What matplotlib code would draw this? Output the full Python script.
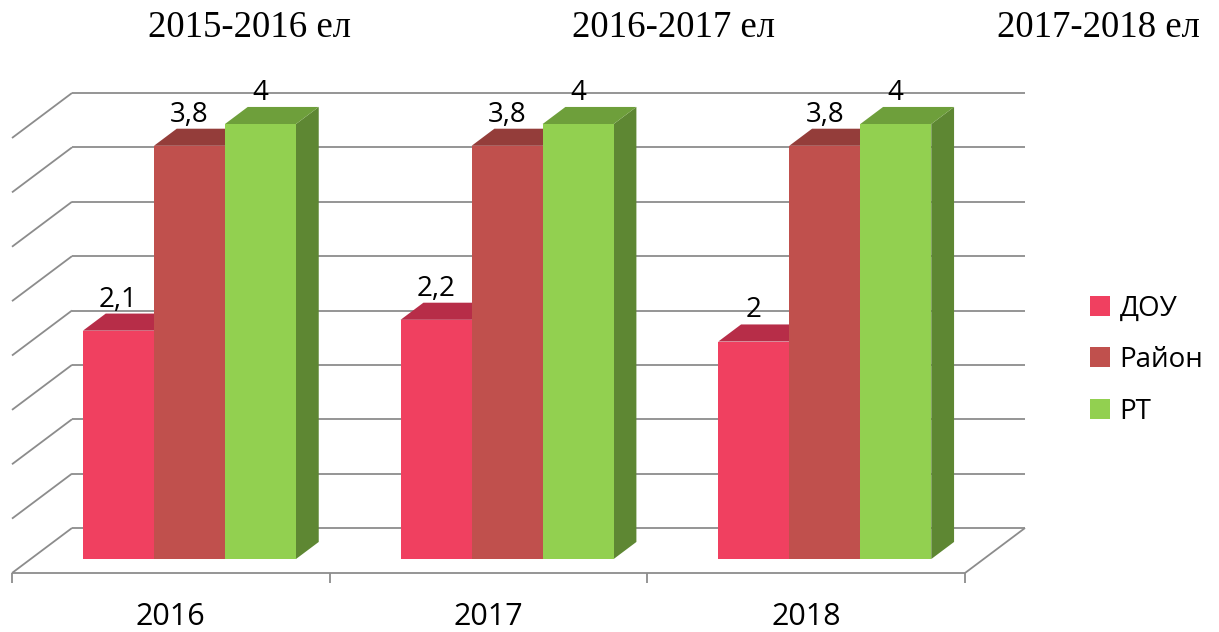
import matplotlib
matplotlib.use("Agg")
import matplotlib.pyplot as plt
from matplotlib.patches import Polygon, Patch

# ---- data ----
categories = ["2016", "2017", "2018"]
series_names = ["ДОУ", "Район", "РТ"]
dou = [2.1, 2.2, 2.0]
rayon = [3.8, 3.8, 3.8]
rt = [4.0, 4.0, 4.0]
value_labels = [["2,1", "2,2", "2"], ["3,8", "3,8", "3,8"], ["4", "4", "4"]]
titles = ["2015-2016 ел", "2016-2017 ел", "2017-2018 ел"]
grid_values = [0, 0.5, 1, 1.5, 2, 2.5, 3, 3.5, 4]

series = [dou, rayon, rt]
front_colors = ["#F04060", "#C0504D", "#92D050"]
top_colors = ["#B72D48", "#943D3A", "#6E9F3B"]
side_colors = ["#B02A44", "#8C3A37", "#5E8733"]

W_PX, H_PX, DPI = 1219, 632, 100
fig = plt.figure(figsize=(W_PX / DPI, H_PX / DPI), dpi=DPI)
ax = fig.add_axes([0, 0, 1, 1])
ax.axis("off")

# scale: front plane x=-0.5 -> px 12, x=2.5 -> px 965 ; v=0 -> py 573, v=4 -> py 138
px_per_x = (965 - 12) / 3.0
px_per_v = (573 - 138) / 4.0
ax.set_xlim(-0.5 - 12 / px_per_x, -0.5 + (W_PX - 12) / px_per_x)
ax.set_ylim(-(H_PX - 573) / px_per_v, 573 / px_per_v)

DX = 60 / px_per_x   # full depth offset in x
DY = 45 / px_per_v   # full depth offset in y
x0, x1 = -0.5, len(categories) - 0.5

grid_kw = dict(color="#8C8C8C", lw=1.3, zorder=1, solid_capstyle="butt")
for v in grid_values:
    ax.plot([x0 + DX, x1 + DX], [v + DY, v + DY], **grid_kw)
    ax.plot([x0, x0 + DX], [v, v + DY], **grid_kw)
# floor
ax.plot([x0, x1], [0, 0], **grid_kw)
ax.plot([x1, x1 + DX], [0, DY], **grid_kw)
tick_len = 10 / px_per_v
for k in range(len(categories) + 1):
    ax.plot([x0 + k, x0 + k], [0, -tick_len], **grid_kw)

# bars
bw = 71 / px_per_x
d0, d1 = 0.31, 0.69
z = 2
for i in range(len(categories)):
    for j, vals in enumerate(series):
        v = vals[i]
        xl = i - 1.5 * bw + j * bw + d0 * DX
        xr = xl + bw
        yb = d0 * DY
        yt = v + d0 * DY
        ddx = (d1 - d0) * DX
        ddy = (d1 - d0) * DY
        side = Polygon([(xr, yb), (xr + ddx, yb + ddy), (xr + ddx, yt + ddy), (xr, yt)],
                       closed=True, facecolor=side_colors[j], edgecolor="none", zorder=z)
        top = Polygon([(xl, yt), (xr, yt), (xr + ddx, yt + ddy), (xl + ddx, yt + ddy)],
                      closed=True, facecolor=top_colors[j], edgecolor="none", zorder=z)
        front = Polygon([(xl, yb), (xr, yb), (xr, yt), (xl, yt)],
                        closed=True, facecolor=front_colors[j], edgecolor="none", zorder=z + 0.5)
        for p in (side, top, front):
            ax.add_patch(p)
        z += 1
        ax.text((xl + xr) / 2, yt + ddy, value_labels[j][i], ha="center", va="bottom",
                fontsize=20, family="Open Sans", color="black", zorder=100)

# category labels
for i, c in enumerate(categories):
    ax.text(i, -44 / px_per_v, c, ha="center", va="center", fontsize=22,
            family="Open Sans", color="black")

# titles
title_x = [250, 673, 1098]
for t, tx in zip(titles, title_x):
    fig.text(tx / W_PX, 1 - 28 / H_PX, t, ha="center", va="center", fontsize=26.5,
             family="Liberation Serif", color="black")

handles = [Patch(facecolor=front_colors[j], edgecolor="none", label=series_names[j])
           for j in range(3)]
leg = fig.legend(handles=handles, loc="center left",
                 bbox_to_anchor=(1090 / W_PX, 1 - 360 / H_PX),
                 frameon=False, prop={"family": "Open Sans", "size": 20},
                 handlelength=0.72, handleheight=0.72, handletextpad=0.35,
                 labelspacing=0.85, borderpad=0, borderaxespad=0)

fig.savefig("out.png", dpi=DPI)
